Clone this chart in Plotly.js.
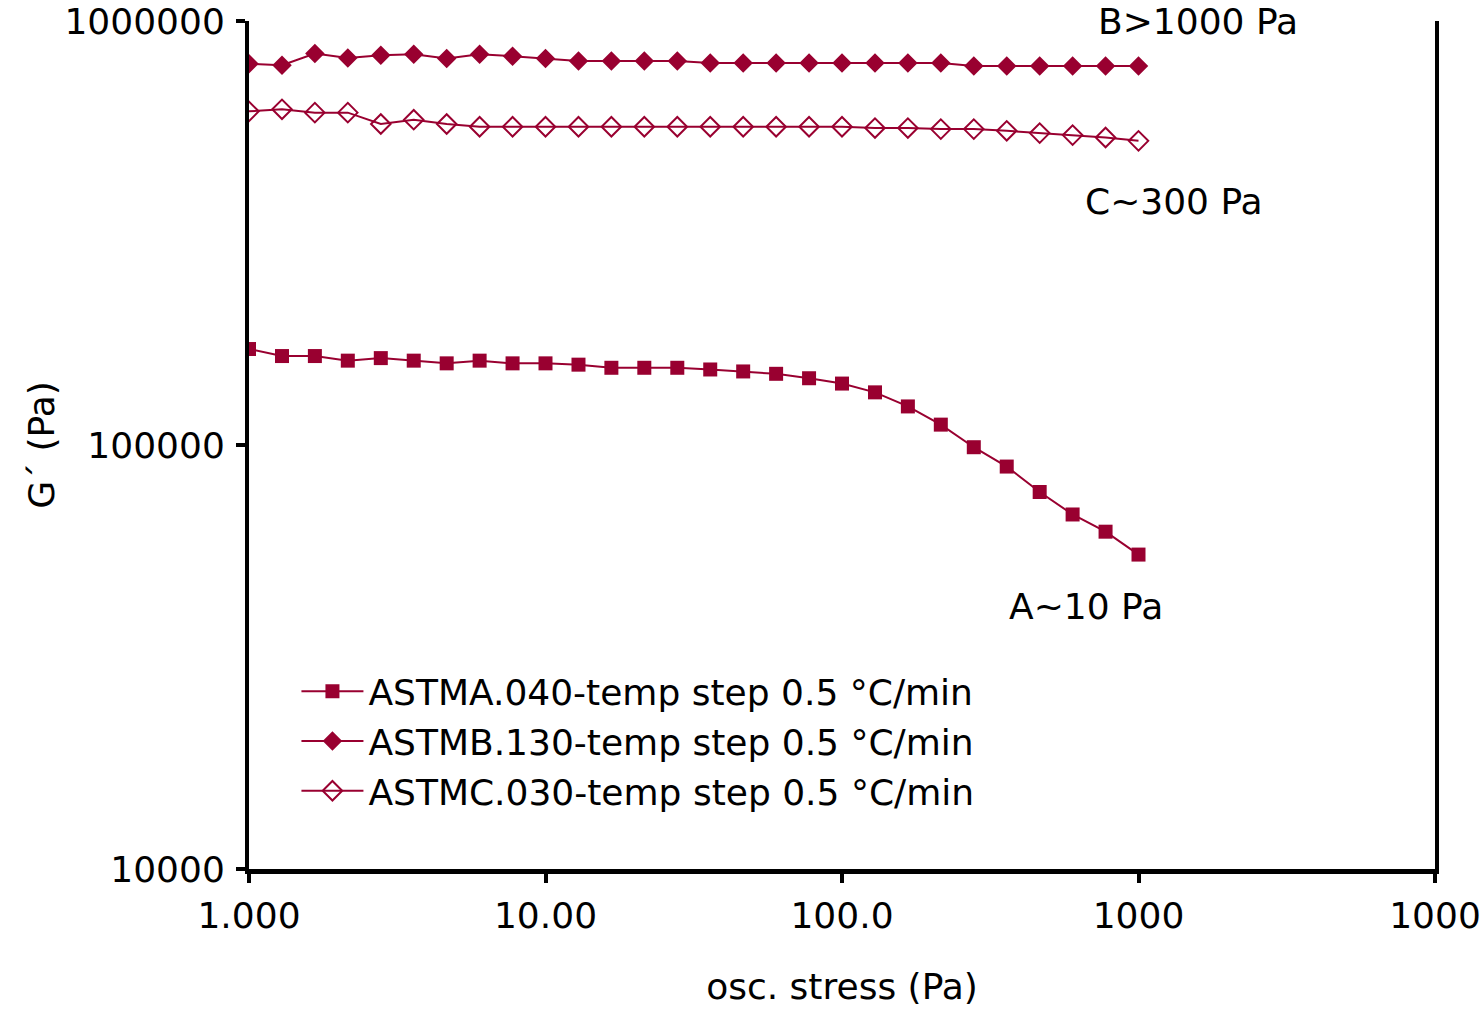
<!DOCTYPE html>
<html>
<head>
<meta charset="utf-8">
<script src="https://cdn.plot.ly/plotly-3.0.1.min.js"></script>
<style>html,body{margin:0;padding:0;background:#fff;}#chart{width:1484px;height:1014px;}</style>
</head>
<body>
<div id="chart"></div>
<script>
// osc. stress (Pa)
var stress = [1.0, 1.292, 1.668, 2.154, 2.783, 3.594, 4.642, 5.995, 7.743, 10.0,
  12.92, 16.68, 21.54, 27.83, 35.94, 46.42, 59.95, 77.43, 100.0,
  129.2, 166.8, 215.4, 278.3, 359.4, 464.2, 599.5, 774.3, 1000.0];
// G' (Pa)
var gA = [168400, 162100, 162100, 158100, 160300, 158100, 155800, 158100, 155800, 155800,
  154700, 152100, 152100, 152100, 150700, 149100, 147200, 143700, 139600,
  133100, 123300, 111700, 98800, 88950, 77480, 68570, 62450, 55150];
var gB = [793300, 786300, 838100, 818000, 830300, 834800, 815400, 834800, 825900, 815400,
  804800, 804800, 804800, 804800, 796200, 796200, 796200, 796200, 796200,
  796200, 796200, 796200, 783200, 783200, 783200, 783200, 783200, 783200];
var gC = [612300, 619000, 607900, 607900, 571500, 585100, 571500, 563100, 563100, 563100,
  563100, 563100, 563100, 563100, 563100, 563100, 563100, 563100, 563100,
  559100, 559100, 556000, 556000, 550900, 544000, 538100, 531100, 521600];
var seriesNames = ["ASTMA.040-temp step 0.5 °C/min", "ASTMB.130-temp step 0.5 °C/min", "ASTMC.030-temp step 0.5 °C/min"];
var xTickVals = [1, 10, 100, 1000, 10000];
var xTickText = ["1.000", "10.00", "100.0", "1000", "1000"];
var yTickVals = [10000, 100000, 1000000];
var yTickText = ["10000", "100000", "1000000"];
var labels = ["B>1000 Pa", "C~300 Pa", "A~10 Pa"];

var col = "#990030";
var font = "'DejaVu Sans', sans-serif";

var traces = [
  {x: stress, y: gA, name: seriesNames[0], mode: "lines+markers", type: "scatter",
   line: {color: col, width: 2}, marker: {symbol: "square", size: 14, color: col}},
  {x: stress, y: gB, name: seriesNames[1], mode: "lines+markers", type: "scatter",
   line: {color: col, width: 2}, marker: {symbol: "diamond", size: 15, color: col}},
  {x: stress, y: gC, name: seriesNames[2], mode: "lines+markers", type: "scatter",
   line: {color: col, width: 2}, marker: {symbol: "diamond-open", size: 15, color: col, line: {width: 2, color: col}}}
];

var annFont = {family: font, size: 36, color: "#000"};
var layout = {
  width: 1484, height: 1014,
  margin: {l: 249, r: 49, t: 21, b: 145, pad: 0},
  paper_bgcolor: "#fff", plot_bgcolor: "#fff",
  font: {family: font, size: 36, color: "#000"},
  showlegend: true,
  legend: {x: 0.040, y: 0.245, xanchor: "left", yanchor: "top", bgcolor: "rgba(0,0,0,0)",
           font: {family: font, size: 36, color: "#000"}, itemwidth: 62, tracegroupgap: 0},
  xaxis: {type: "log", range: [-0.00001, 4.00001], tickmode: "array", tickvals: xTickVals, ticktext: xTickText,
          showgrid: false, zeroline: false, showline: true, linecolor: "#000", linewidth: 5,
          ticks: "outside", ticklen: 9, tickwidth: 4, tickcolor: "#000", ticklabelstandoff: 2,
          tickfont: {family: font, size: 36, color: "#000"},
          title: {text: "osc. stress (Pa)", font: {family: font, size: 36, color: "#000"}, standoff: 40}},
  yaxis: {type: "log", range: [3.99999, 6.00001], tickmode: "array", tickvals: yTickVals, ticktext: yTickText,
          showgrid: false, zeroline: false, showline: true, linecolor: "#000", linewidth: 4, mirror: true,
          ticks: "outside", ticklen: 9, tickwidth: 4, tickcolor: "#000", ticklabelstandoff: 4,
          tickfont: {family: font, size: 36, color: "#000"},
          title: {text: "G´ (Pa)", font: {family: font, size: 36, color: "#000"}, standoff: 0}},
  annotations: [
    {text: labels[0], xref: "paper", yref: "paper", x: 0.800, y: 0.999, xanchor: "center", yanchor: "middle", showarrow: false, font: annFont},
    {text: labels[1], xref: "paper", yref: "paper", x: 0.780, y: 0.787, xanchor: "center", yanchor: "middle", showarrow: false, font: annFont},
    {text: labels[2], xref: "paper", yref: "paper", x: 0.706, y: 0.309, xanchor: "center", yanchor: "middle", showarrow: false, font: annFont}
  ]
};

Plotly.newPlot("chart", traces, layout, {displayModeBar: false, staticPlot: true});
</script>
</body>
</html>
